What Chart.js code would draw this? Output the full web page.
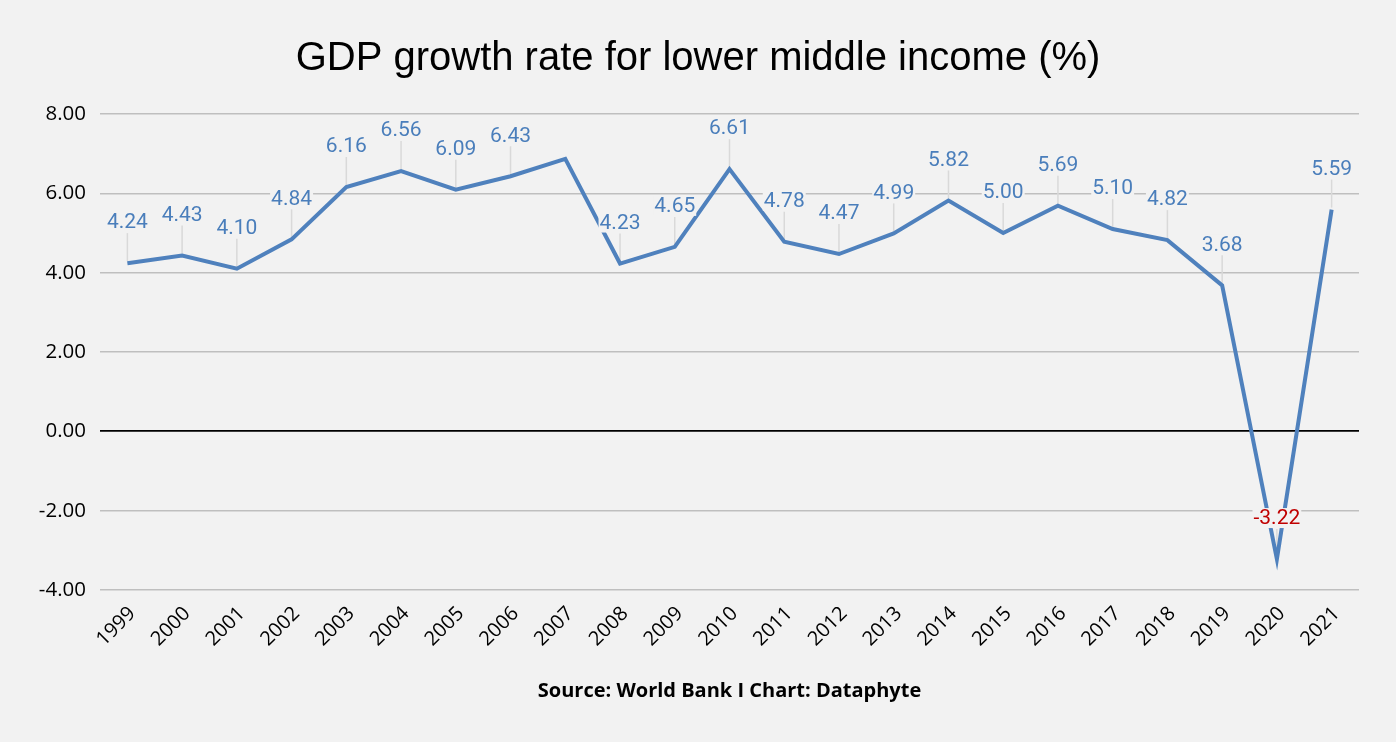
<!DOCTYPE html>
<html>
<head>
<meta charset="utf-8">
<script src="https://cdn.jsdelivr.net/npm/chart.js@4"></script>
<style>
  html, body { margin: 0; padding: 0; background: #f2f2f2; }
  #wrap { width: 1396px; height: 742px; }
</style>
</head>
<body>
<div id="wrap"><canvas id="chart" width="1396" height="742"></canvas></div>
<script>
// values
const years = ['1999', '2000', '2001', '2002', '2003', '2004', '2005', '2006', '2007', '2008', '2009', '2010',
  '2011', '2012', '2013', '2014', '2015', '2016', '2017', '2018', '2019', '2020', '2021']
const growth = [4.24, 4.43, 4.10, 4.84, 6.16, 6.56, 6.09, 6.43, 6.87, 4.23, 4.65, 6.61,
  4.78, 4.47, 4.99, 5.82, 5.00, 5.69, 5.10, 4.82, 3.68, -3.22, 5.59]
// 2007 has no label in the original
const showLabel = years.map(y => y !== '2007')

const LINE_BLUE = '#4f81bd'
const LABEL_BLUE = '#4a7ebb'
const BG = '#f2f2f2'

// simple data label plugin: leader line + value above each point
const pointLabels = {
  id: 'pointLabels',
  beforeDatasetsDraw(chart) {
    const ctx = chart.ctx
    const meta = chart.getDatasetMeta(0)
    ctx.save()
    ctx.strokeStyle = '#d9d9d9'
    ctx.lineWidth = 1.5
    meta.data.forEach((pt, i) => {
      if (!showLabel[i]) return
      ctx.beginPath()
      ctx.moveTo(pt.x, pt.y - 2)
      ctx.lineTo(pt.x, pt.y - 30)
      ctx.stroke()
    })
    ctx.restore()
  },
  afterDatasetsDraw(chart) {
    const ctx = chart.ctx
    const meta = chart.getDatasetMeta(0)
    ctx.save()
    ctx.font = '21px Roboto'
    ctx.textAlign = 'center'
    ctx.textBaseline = 'middle'
    meta.data.forEach((pt, i) => {
      if (!showLabel[i]) return
      const txt = growth[i].toFixed(2)
      const w = ctx.measureText(txt).width
      const cy = pt.y - 41
      ctx.fillStyle = BG
      ctx.fillRect(pt.x - w / 2 - 1, cy - 10, w + 2, 20)
      ctx.fillStyle = growth[i] < 0 ? '#c00000' : LABEL_BLUE
      ctx.fillText(txt, pt.x, cy + 1)
    })
    ctx.restore()
  }
}

const bgPlugin = {
  id: 'bg',
  beforeDraw(chart) {
    const ctx = chart.ctx
    ctx.save()
    ctx.fillStyle = BG
    ctx.fillRect(0, 0, chart.width, chart.height)
    ctx.restore()
  }
}

new Chart(document.getElementById('chart'), {
  type: 'line',
  data: {
    labels: years,
    datasets: [{
      data: growth,
      borderColor: LINE_BLUE,
      borderWidth: 4,
      pointRadius: 0,
      tension: 0,
      fill: false
    }]
  },
  options: {
    responsive: false,
    animation: false,
    layout: { padding: 0 },
    plugins: {
      legend: { display: false },
      tooltip: { enabled: false },
      title: {
        display: true,
        text: 'GDP growth rate for lower middle income (%)',
        color: '#000',
        font: { family: '"Liberation Sans", Arial', size: 40, weight: 'normal' },
        padding: { top: 35, bottom: 31 }
      },
      subtitle: {
        display: true,
        position: 'bottom',
        fullSize: false,
        text: 'Source: World Bank I Chart: Dataphyte',
        color: '#000',
        font: { family: '"Open Sans"', size: 20, weight: 'bold' },
        padding: { top: 0, bottom: 39 }
      }
    },
    scales: {
      x: {
        offset: true,
        grid: { display: false },
        border: { display: false },
        ticks: {
          color: '#000',
          font: { family: '"Open Sans"', size: 20 },
          minRotation: 45,
          maxRotation: 45,
          autoSkip: false,
          labelOffset: 5,
          padding: 4
        },
        afterFit(s) { s.height = 89 }
      },
      y: {
        min: -4,
        max: 8,
        border: { display: false },
        grid: {
          color: ctx => ctx.tick.value === 0 ? '#000' : '#bfbfbf',
          lineWidth: ctx => ctx.tick.value === 0 ? 1.8 : 1.5,
          drawTicks: false
        },
        ticks: {
          stepSize: 2,
          color: '#000',
          padding: 14,
          font: { family: '"Open Sans"', size: 20.5 },
          callback: v => v.toFixed(2)
        },
        afterFit(s) { s.width = 100 }
      },
      // empty right-hand axis only to keep the right margin
      yRight: {
        position: 'right',
        min: -4,
        max: 8,
        grid: { display: false },
        border: { display: false },
        ticks: { display: false },
        afterFit(s) { s.width = 37 }
      }
    }
  },
  plugins: [bgPlugin, pointLabels]
})
</script>
</body>
</html>
